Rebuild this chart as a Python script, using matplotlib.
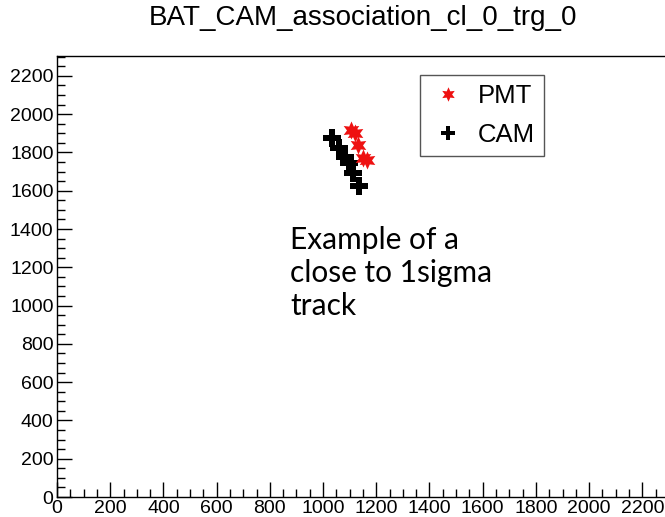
import matplotlib
matplotlib.use("Agg")
import matplotlib.pyplot as plt
import matplotlib.transforms as mtransforms
from matplotlib.ticker import MultipleLocator

# Data (pixel coordinates)
pmt_x = [1105, 1120, 1130, 1150, 1165]
pmt_y = [1915, 1900, 1838, 1772, 1762]
cam_x = [1034, 1060, 1083, 1098, 1113, 1135]
cam_y = [1875, 1822, 1775, 1744, 1692, 1624]
title = "BAT_CAM_association_cl_0_trg_0"
note = "Example of a\nclose to 1sigma\ntrack"

W, H = 665, 517
fig = plt.figure(figsize=(W / 100, H / 100), dpi=100)
fig.patch.set_facecolor("white")

left, right, bottom, top = 57, 670, 497, 56
ax = fig.add_axes([left / W, 1 - bottom / H, (right - left) / W, (bottom - top) / H])
ax.set_xlim(0, 2304)
ax.set_ylim(0, 2304)

ax.plot(pmt_x, pmt_y, linestyle="none", marker=(6, 1, 0), color="#ee1111",
        markersize=13, markeredgewidth=0, label="PMT", zorder=3)
ax.plot(cam_x, cam_y, linestyle="none", marker="P", color="black",
        markersize=12.5, markeredgewidth=0, label="CAM", zorder=2)

ax.xaxis.set_major_locator(MultipleLocator(200))
ax.xaxis.set_minor_locator(MultipleLocator(50))
ax.yaxis.set_major_locator(MultipleLocator(200))
ax.yaxis.set_minor_locator(MultipleLocator(50))
ax.tick_params(which="major", direction="in", length=11, width=1.0, color="black",
               labelsize=14, labelfontfamily="Liberation Sans")
ax.tick_params(which="minor", direction="in", length=5.5, width=1.0, color="black")
ax.tick_params(axis="x", pad=2)
ax.tick_params(axis="y", pad=2.5)
for s in ax.spines.values():
    s.set_linewidth(1.0)
    s.set_color("black")

# nudge the y-axis "0" label up a little, as in the reference
fig.canvas.draw()
ylab0 = ax.yaxis.get_major_ticks()[0].label1
ylab0.set_transform(ylab0.get_transform() +
                    mtransforms.ScaledTranslation(0, 3 / 100, fig.dpi_scale_trans))

fig.text(363 / W, 1 - 18 / H, title, ha="center", va="center",
         fontsize=20, family="Liberation Sans")

fig.text(290 / W, 1 - 226 / H, note, ha="left", va="top",
         fontsize=21.5, family="Lato", linespacing=1.22)

leg = ax.legend(loc="upper left", bbox_to_anchor=(420 / W, 1 - 75 / H),
                bbox_transform=fig.transFigure, borderaxespad=0,
                borderpad=0.35, handlelength=1.5, handletextpad=0.4,
                labelspacing=0.6, fancybox=False, framealpha=1,
                markerscale=0.8,
                edgecolor="#555555", prop={"family": "Liberation Sans", "size": 18.5})
leg.get_frame().set_linewidth(1.0)

fig.savefig("out.png", dpi=100)
